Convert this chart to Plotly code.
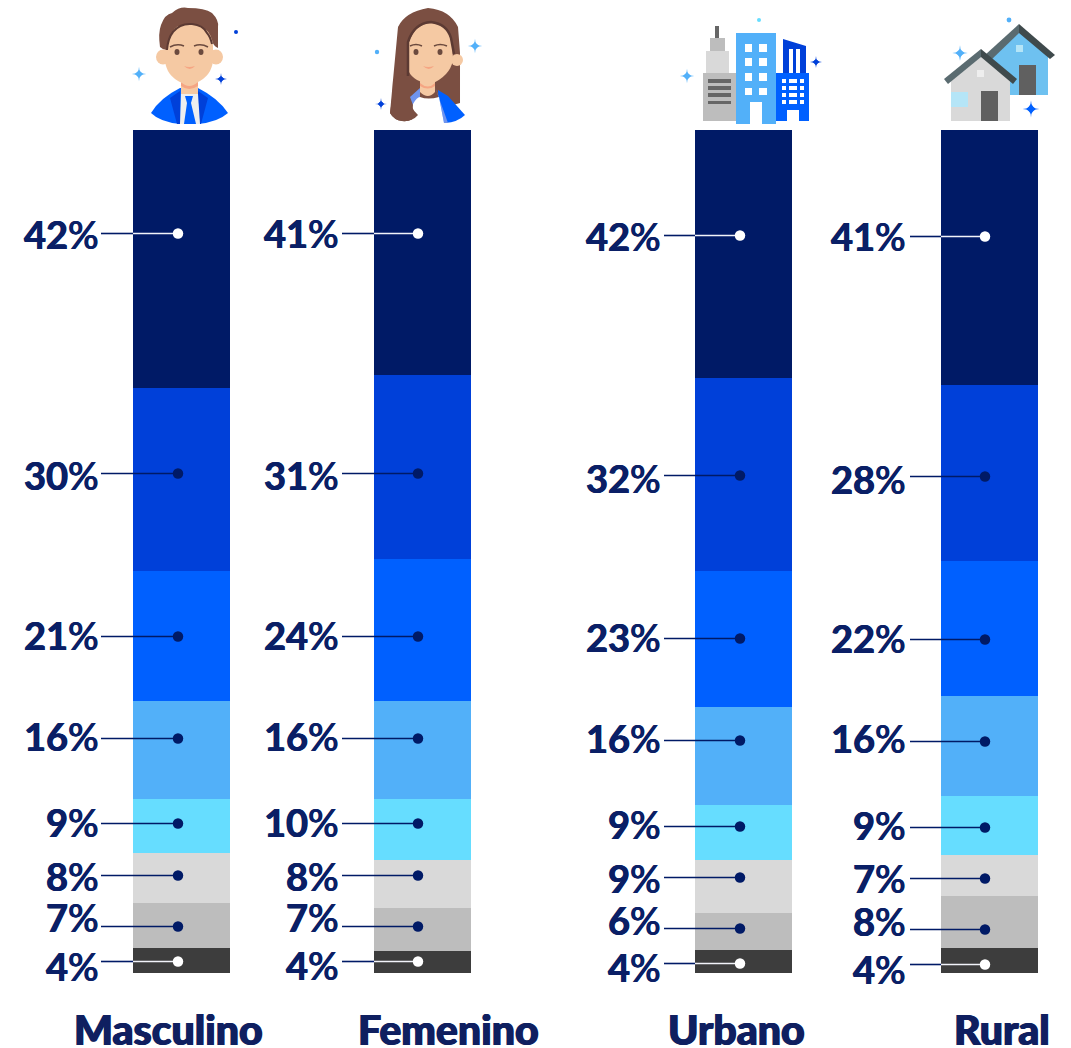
import re
import plotly.graph_objects as go

W, H = 1071, 1048
TOP, BOTTOM = 130, 973

# ---------- data ----------
categories = ["Masculino", "Femenino", "Urbano", "Rural"]
masculino_vals = [41.9, 29.8, 21.1, 15.9, 8.8, 8.1, 7.3, 4.1]
femenino_vals = [41.0, 30.8, 23.7, 16.4, 10.2, 8.0, 7.2, 3.7]
urbano_vals = [41.5, 32.1, 22.7, 16.4, 9.2, 8.9, 6.2, 3.8]
rural_vals = [40.9, 28.2, 21.6, 16.0, 9.4, 6.6, 8.3, 4.0]
masculino_txt = [42, 30, 21, 16, 9, 8, 7, 4]
femenino_txt = [41, 31, 24, 16, 10, 8, 7, 4]
urbano_txt = [42, 32, 23, 16, 9, 9, 6, 4]
rural_txt = [41, 28, 22, 16, 9, 7, 8, 4]
segment_colors = ["#001A66", "#0040D9", "#0060FF", "#52B0F9", "#66DDFF", "#D9D9D9", "#BDBDBD", "#3D3D3D"]

# layout helpers (pixel placement of the bespoke infographic)
bar_center = [181.5, 422.5, 743.5, 989.5]
dot_x = [178, 418, 740, 985]
line_start = [101, 342, 664, 910]
label_right = [99, 339, 661, 906]
cat_center = [168.5, 448, 736, 1002]
dot_px = [
    [233, 473, 636, 738, 823, 875, 926, 961],
    [233, 473, 636, 738, 823, 875, 926, 961],
    [235, 475, 638, 740, 826, 877, 928, 963],
    [236, 476, 639, 741, 827, 878, 929, 964],
]
label_px = [
    [236, 477, 636, 737, 823, 877, 918, 967],
    [235, 477, 636, 737, 823, 877, 918, 966],
    [237, 479, 638, 739, 825, 879, 921, 968],
    [238, 480, 639, 739, 826, 879, 922, 970],
]
NAVY = "#001A66"
LABEL = "#0A1F66"
FONT = "Lato"

series = [masculino_vals, femenino_vals, urbano_vals, rural_vals]
texts = [masculino_txt, femenino_txt, urbano_txt, rural_txt]

fig = go.Figure()
for i in range(7, -1, -1):
    fig.add_trace(go.Bar(x=bar_center, y=[s[i] for s in series], width=97,
                         marker=dict(color=segment_colors[i], line=dict(width=0)),
                         hoverinfo="skip", showlegend=False))


def lvl(py):
    return (BOTTOM - py - 0.5) / (BOTTOM - TOP) * 100


bar_left = [133, 374, 695, 941]
for c in range(4):
    for r in range(8):
        y = lvl(dot_px[c][r])
        light = r in (0, 7)
        if light:
            fig.add_trace(go.Scatter(x=[line_start[c], bar_left[c]], y=[y, y], mode="lines",
                                     line=dict(color=NAVY, width=1.6), hoverinfo="skip", showlegend=False))
            fig.add_trace(go.Scatter(x=[bar_left[c], dot_x[c]], y=[y, y], mode="lines",
                                     line=dict(color="#F2F4FA", width=1.6), hoverinfo="skip", showlegend=False))
        else:
            fig.add_trace(go.Scatter(x=[line_start[c], dot_x[c]], y=[y, y], mode="lines",
                                     line=dict(color=NAVY, width=1.6), hoverinfo="skip", showlegend=False))
        fig.add_trace(go.Scatter(x=[dot_x[c]], y=[y], mode="markers",
                                 marker=dict(size=10.5, color="#FFFFFF" if light else NAVY, line=dict(width=0)),
                                 hoverinfo="skip", showlegend=False))

annotations = []
for c in range(4):
    for r in range(8):
        annotations.append(dict(x=label_right[c] / W, y=1 - (label_px[c][r] - 1.5) / H, xref="paper", yref="paper",
                                text=f"<b>{texts[c][r]}</b>%", showarrow=False, xanchor="right", yanchor="middle",
                                font=dict(family=FONT, size=38, color=LABEL, weight=500,
                                          shadow=f"0.5px 0 0 {LABEL},-0.5px 0 0 {LABEL}"),
                                borderpad=0, borderwidth=0))
    annotations.append(dict(x=cat_center[c] / W, y=1 - 1029 / H, xref="paper", yref="paper",
                            text=categories[c], showarrow=False, xanchor="center", yanchor="middle",
                            font=dict(family=FONT, size=41, color="#0F1F60", weight=900,
                                      shadow="0.7px 0 0 #0F1F60,-0.7px 0 0 #0F1F60")))

# ---------- icons ----------
shapes = []


def px_path(d):
    out, is_x = [], True
    for tok in re.findall(r"[MLQCZ]|-?\d+\.?\d*", d):
        if tok.isalpha():
            out.append(tok)
            is_x = True
        else:
            v = float(tok)
            out.append(f"{v / W:.5f}" if is_x else f"{1 - v / H:.5f}")
            is_x = not is_x
    return " ".join(out)


def poly(d, fill):
    shapes.append(dict(type="path", xref="paper", yref="paper", path=px_path(d), fillcolor=fill,
                       line=dict(width=0), layer="above"))


def stroke(d, color, w=2):
    shapes.append(dict(type="path", xref="paper", yref="paper", path=px_path(d),
                       line=dict(width=w, color=color), layer="above"))


def rect(x0, y0, x1, y1, fill):
    poly(f"M{x0} {y0} L{x1} {y0} L{x1} {y1} L{x0} {y1} Z", fill)


def oval(cx, cy, rx, ry, fill):
    shapes.append(dict(type="circle", xref="paper", yref="paper", x0=(cx - rx) / W, x1=(cx + rx) / W,
                       y0=1 - (cy + ry) / H, y1=1 - (cy - ry) / H, fillcolor=fill, line=dict(width=0), layer="above"))


def sparkle(cx, cy, r, fill):
    r = r * 1.2
    poly(f"M{cx} {cy - r} Q{cx} {cy} {cx + r} {cy} Q{cx} {cy} {cx} {cy + r} Q{cx} {cy} {cx - r} {cy} Q{cx} {cy} {cx} {cy - r} Z", fill)
    oval(cx, cy, r * 0.36, r * 0.36, fill)


SKIN, HAIR, DARKH = "#F5C9A3", "#7B4F42", "#5C3A33"
BLUE, MID, SKY, CYAN = "#0060FF", "#0040D9", "#52B0F9", "#66DDFF"
PEACH = "#F5A583"

# man
poly("M151 113 Q160 98 180 88 L198 88 Q218 98 228 113 Q218 122 198 124 L180 124 Q160 122 151 113 Z", BLUE)
poly("M180 91 L170 98 L177 124 L180 124 Z", MID)
poly("M198 91 L208 98 L201 124 L198 124 Z", MID)
rect(181, 78, 198, 95, SKIN)
poly("M181 82 Q189 90 198 82 L198 86 Q189 92 181 86 Z", PEACH)
poly("M181 94 L198 94 L200 124 L180 124 Z", "#EEEEEE")
poly("M185 96 L193 96 L191 103 L196 124 L184 124 L187 103 Z", BLUE)
oval(163, 57, 7, 7.5, SKIN)
oval(216, 57, 7, 7.5, SKIN)
poly("M165 45 Q166 24 189 24 Q212 24 213 45 L213 60 Q212 76 196 83 L182 83 Q166 76 165 60 Z", SKIN)
poly("M160 47 Q158 33 161 25 Q165 14 172 13 Q180 6 188 8 Q205 8 212 13 Q219 20 218 27 L218 48 Q213 46 212 40 Q209 30 203 28 Q192 22 185 25 Q175 25 173 32 Q168 40 167 50 Q163 50 160 47 Z", HAIR)
stroke("M167 50 Q168 38 173 32 Q180 23 192 24 Q203 25 207 33 Q210 36 212 44", DARKH, 2)
oval(177, 52, 2.5, 3, "#6B4A3E")
oval(201, 52, 2.5, 3, "#6B4A3E")
stroke("M170 47 Q177 43 184 46", "#6B4A3E", 1.5)
stroke("M194 46 Q201 43 208 47", "#6B4A3E", 1.5)
poly("M184 66 Q189 68 195 66 Q190 72 184 66 Z", PEACH)
sparkle(139, 74, 6, SKY)
sparkle(221, 79, 5, MID)
oval(236, 32, 2, 2, MID)

# woman
poly("M398 27 Q405 12 428 8 Q450 10 458 27 L460 53 L460 103 L418 115 Q412 122 402 121 Q394 120 390 113 Q393 95 393 80 Z", HAIR)
poly("M438 90 L448 96 L465 115 Q458 122 445 123 L440 123 Z", BLUE)
poly("M420 88 L410 97 L413 105 L420 97 Z", "#6F94EE")
poly("M435 87 L448 123 L444 123 L439 97 Z", "#6F94EE")
poly("M413 104 Q417 97 420 97 Q428 100 439 97 L444 123 L412 123 Z", "#FFFFFF")
poly("M420 80 L435 80 L435 92 Q428 100 420 92 Z", SKIN)
poly("M420 83 Q428 90 435 83 L435 86 Q428 91 420 86 Z", PEACH)
poly("M393 80 L390 113 Q394 120 402 121 Q412 122 418 115 Q410 108 408 95 L408 72 Z", HAIR)
oval(457, 60, 6, 6, SKIN)
poly("M409 42 Q415 24 431 23 Q447 24 452 40 L453 60 Q450 76 431 84 Q414 82 409 72 Z", SKIN)
stroke("M408 76 L408 42 Q414 23 431 22 Q447 24 451 38 L454 54", DARKH, 2.5)
oval(416, 52, 2.5, 3, "#6B4A3E")
oval(440, 52, 2.5, 3, "#6B4A3E")
stroke("M410 46 Q416 43 422 46", "#6B4A3E", 1.5)
stroke("M434 46 Q440 43 447 46", "#6B4A3E", 1.5)
poly("M423 66 Q428 68 434 66 Q429 72 423 66 Z", PEACH)
sparkle(475, 46, 6, SKY)
sparkle(381, 104, 5, MID)
oval(377, 52, 2.2, 2.2, SKY)

# city
rect(715, 26, 719, 38, "#666666")
rect(710, 38, 725, 52, "#BDBDBD")
rect(706, 51, 729, 73, "#D9D9D9")
rect(703, 73, 736, 121, "#BDBDBD")
for y0, y1 in [(79, 83), (86, 90), (93, 97), (101, 104)]:
    rect(708, y0, 731, y1, "#666666")
rect(736, 33, 776, 124, SKY)
for x0, x1 in [(745, 752), (759, 767)]:
    for y0, y1 in [(44, 52), (58, 66), (73, 81), (88, 95)]:
        rect(x0, y0, x1, y1, "#FFFFFF")
rect(750, 102, 762, 124, "#FFFFFF")
poly("M783 39 L806 46 L806 73 L783 73 Z", MID)
rect(789, 49, 793, 73, "#FFFFFF")
rect(796, 49, 800, 73, "#FFFFFF")
rect(776, 73, 809, 121, BLUE)
for x0, x1 in [(782, 786), (789, 797), (800, 804)]:
    for y0, y1 in [(79, 83), (86, 90), (93, 97), (100, 104)]:
        rect(x0, y0, x1, y1, "#FFFFFF")
rect(787, 110, 799, 121, "#FFFFFF")
sparkle(687, 76, 6, SKY)
sparkle(816, 62, 5, MID)
oval(759, 20, 2, 2, CYAN)

# rural
poly("M1019 30 L1048 55 L1048 95 L990 95 L990 55 Z", "#6EC1F0")
poly("M985 55 L1019 24 L1019 33 L990 61 Z", "#5A6B70")
poly("M1019 24 L1055 55 L1050 59 L1019 33 Z", "#3F4A4C")
rect(1016, 45, 1023, 52, "#B5E5F7")
rect(1019, 65, 1036, 95, "#606060")
poly("M951 80 L981 56 L1010 80 L1010 121 L951 121 Z", "#D9D9D9")
poly("M944 79 L981 49 L981 57 L948 84 Z", "#5A6B70")
poly("M981 49 L1017 79 L1013 84 L981 57 Z", "#3F4A4C")
rect(951, 92, 968, 107, "#B5E5F7")
rect(977, 70, 984, 77, "#EEEEEE")
rect(981, 91, 998, 121, "#606060")
sparkle(960, 53, 6.5, SKY)
sparkle(1031, 109, 7, BLUE)
oval(1009, 20, 2.4, 2.4, SKY)

fig.update_layout(
    barmode="stack", barnorm="percent", width=W, height=H,
    margin=dict(l=0, r=0, t=0, b=0), paper_bgcolor="#FFFFFF", plot_bgcolor="#FFFFFF",
    showlegend=False, annotations=annotations, shapes=shapes,
    xaxis=dict(range=[0, W], visible=False, fixedrange=True),
    yaxis=dict(range=[0, 100], visible=False, fixedrange=True, domain=[1 - BOTTOM / H, 1 - TOP / H]),
)
fig.write_html("out.html", config={"displayModeBar": False},
               post_script="document.body.style.margin='0';")
